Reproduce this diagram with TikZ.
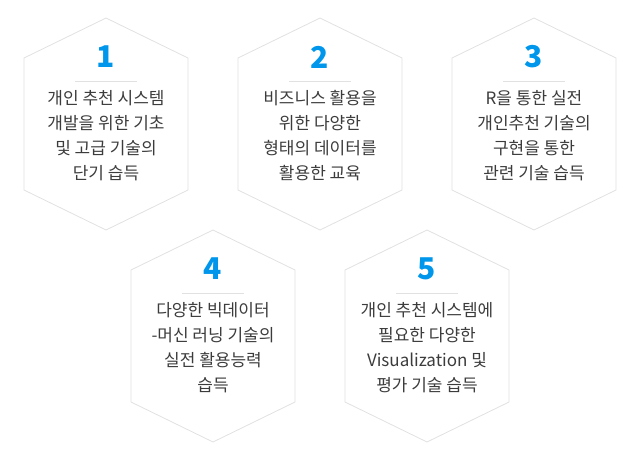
\documentclass[tikz,border=0pt]{standalone}
\usepackage{fontspec}
\setmainfont{Noto Sans CJK KR}
\usetikzlibrary{positioning}
\definecolor{numblue}{RGB}{0,150,235}
\definecolor{hexgray}{RGB}{225,225,225}
\definecolor{txtgray}{RGB}{60,60,60}

\begin{document}
\begin{tikzpicture}[x=1pt,y=-1pt,
  hex/.style={draw=hexgray,line width=0.8pt},
  num node/.style={font=\fontsize{30}{30}\selectfont\bfseries,text=numblue},
  body node/.style={font=\fontsize{17}{25}\selectfont,text=txtgray,align=center},
  rule/.style={draw=hexgray,line width=0.8pt}]

  \useasboundingbox (0,0) rectangle (640,461);

  % hexagon cell: name, centre x, centre y, number, text
  \newcommand{\hexcell}[5]{
    \draw[hex] (#2,#3-106) -- (#2+82,#3-66) -- (#2+82,#3+66) -- (#2,#3+106)
      -- (#2-82,#3+66) -- (#2-82,#3-66) -- cycle;
    \node[num node] (#1n) at (#2,#3-67) {#4};
    \coordinate (#1a) at (#2-31,#3-43);
    \coordinate (#1b) at (#2+31,#3-43);
    \draw[rule] (#1a) -- (#1b);
    \node[body node,anchor=north] (#1t) at (#2,#3-37) {#5};
  }

  \hexcell{h1}{106}{124}{1}{개인 추천 시스템\\개발을 위한 기초\\및 고급 기술의\\단기 습득}
  \hexcell{h2}{320}{124}{2}{비즈니스 활용을\\위한 다양한\\형태의 데이터를\\활용한 교육}
  \hexcell{h3}{534}{124}{3}{R을 통한 실전\\개인추천 기술의\\구현을 통한\\관련 기술 습득}
  \hexcell{h4}{213}{336}{4}{다양한 빅데이터\\-머신 러닝 기술의\\실전 활용능력\\습득}
  \hexcell{h5}{427}{336}{5}{개인 추천 시스템에\\필요한 다양한\\Visualization 및\\평가 기술 습득}
\end{tikzpicture}
\end{document}
